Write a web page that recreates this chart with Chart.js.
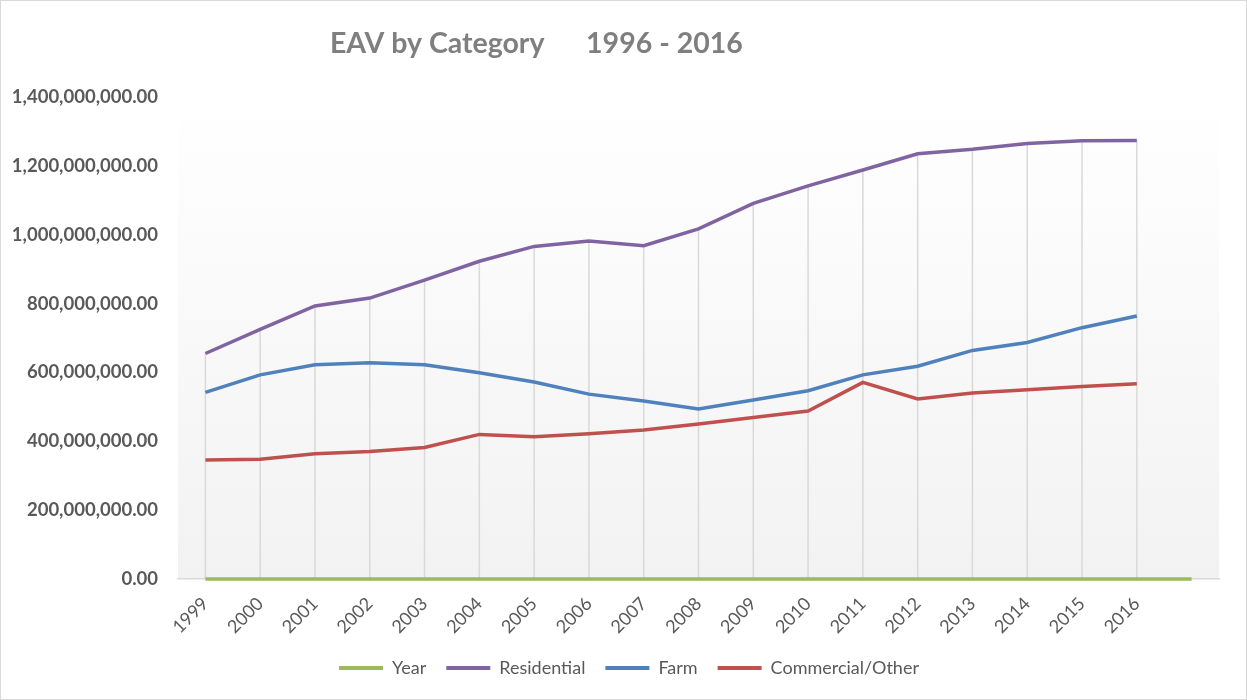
<!DOCTYPE html>
<html>
<head>
<meta charset="utf-8">
<script src="https://cdn.jsdelivr.net/npm/chart.js@4.4.1/dist/chart.umd.min.js"></script>
<style>
  body { margin: 0; background: #fff; }
  #wrap { width: 1245px; height: 698px; border: 1px solid #d9d9d9; position: relative; }
</style>
</head>
<body>
<div id="wrap"><canvas id="myChart" width="1245" height="698"></canvas></div>
<script>
// years on the axis (last slot has no label)
const xLabels = ["1999","2000","2001","2002","2003","2004","2005","2006","2007","2008",
  "2009","2010","2011","2012","2013","2014","2015","2016",""];

const yearVals = [1999,2000,2001,2002,2003,2004,2005,2006,2007,2008,
  2009,2010,2011,2012,2013,2014,2015,2016,2017];

const residential = [655e6,725e6,793e6,816e6,868e6,923e6,966e6,982e6,968e6,1017e6,
  1091e6,1142e6,1188e6,1235e6,1248e6,1265e6,1273e6,1274e6];

const farm = [542e6,593e6,622e6,628e6,622e6,599e6,572e6,537e6,517e6,494e6,
  520e6,547e6,593e6,618e6,664e6,687e6,730e6,764e6];

const commercial = [346e6,348e6,364e6,370e6,382e6,420e6,413e6,422e6,433e6,450e6,
  469e6,488e6,571e6,523e6,540e6,550e6,559e6,567e6];

const titleText = "EAV by Category      1996 - 2016";

const FONT = "Lato, 'Open Sans', sans-serif";
const GREY = "#595959";

// plot area: white at top fading to light grey
const plotBg = {
  id: "plotBg",
  beforeDraw(chart) {
    const {ctx, chartArea: a} = chart;
    const g = ctx.createLinearGradient(0, a.top, 0, a.bottom);
    g.addColorStop(0, "#ffffff");
    g.addColorStop(1, "#f2f2f2");
    ctx.save();
    ctx.fillStyle = g;
    ctx.fillRect(a.left, a.top, a.right - a.left, a.bottom - a.top);
    ctx.restore();
  }
};

// excel style drop lines from the highest series down to the axis
const dropLines = {
  id: "dropLines",
  beforeDatasetsDraw(chart) {
    const {ctx, scales: {x, y}} = chart;
    ctx.save();
    ctx.strokeStyle = "#d9d9d9";
    ctx.lineWidth = 1.5;
    residential.forEach((v, i) => {
      const top = Math.max(v, farm[i], commercial[i]);
      const px = x.getPixelForValue(i);
      ctx.beginPath();
      ctx.moveTo(px, y.getPixelForValue(top));
      ctx.lineTo(px, y.getPixelForValue(0));
      ctx.stroke();
    });
    ctx.restore();
  }
};

// title sits left of centre in the original, legend a bit right of it
const titlePlugin = {
  id: "titlePlugin",
  afterLayout(chart) {
    chart.legend.left += 15;
    chart.legend.right += 15;
  },
  afterDraw(chart) {
    const ctx = chart.ctx;
    ctx.save();
    ctx.font = "bold 28.5px " + FONT;
    ctx.fillStyle = "#7f7f7f";
    ctx.textAlign = "center";
    ctx.textBaseline = "middle";
    ctx.fillText(titleText, chart.width * 0.43, 43);
    ctx.restore();
  }
};

new Chart("myChart", {
  type: "line",
  data: {
    labels: xLabels,
    datasets: [
      { label: "Year", data: yearVals, borderColor: "#9bbb59", backgroundColor: "#9bbb59" },
      { label: "Residential", data: residential, borderColor: "#8064a2", backgroundColor: "#8064a2" },
      { label: "Farm", data: farm, borderColor: "#4f81bd", backgroundColor: "#4f81bd" },
      { label: "Commercial/Other", data: commercial, borderColor: "#c0504d", backgroundColor: "#c0504d" }
    ]
  },
  options: {
    responsive: false,
    animation: false,
    devicePixelRatio: 1,
    layout: { padding: { left: 8, right: 27, top: 96, bottom: 12 } },
    datasets: { line: { clip: false } },
    elements: {
      line: { borderWidth: 3.5, tension: 0, fill: false },
      point: { radius: 0, hoverRadius: 0 }
    },
    plugins: {
      title: { display: false },
      tooltip: { enabled: false },
      legend: {
        position: "bottom",
        labels: {
          font: { family: FONT, size: 18 },
          color: GREY,
          boxWidth: 44,
          boxHeight: 4,
          padding: 20,
          generateLabels(chart) {
            const items = Chart.defaults.plugins.legend.labels.generateLabels(chart);
            items.forEach(it => { it.lineWidth = 0; });
            return items;
          }
        }
      }
    },
    scales: {
      x: {
        offset: true,
        afterFit(scale) { scale.height = 60; },
        grid: { display: false, drawTicks: false },
        border: { display: true, color: "#d9d9d9", width: 1.5 },
        ticks: {
          font: { family: FONT, size: 18 },
          color: GREY,
          maxRotation: 45,
          minRotation: 45,
          autoSkip: false,
          padding: 14
        }
      },
      y: {
        min: 0,
        max: 1400000000,
        afterFit(scale) { scale.width = 169; },
        grid: { display: false, drawTicks: false },
        border: { display: false },
        ticks: {
          stepSize: 200000000,
          font: { family: FONT, size: 18.5, weight: "bold" },
          color: GREY,
          padding: 20,
          callback: v => v.toLocaleString("en-US", { minimumFractionDigits: 2, maximumFractionDigits: 2 })
        }
      }
    }
  },
  plugins: [plotBg, dropLines, titlePlugin]
});
</script>
</body>
</html>
